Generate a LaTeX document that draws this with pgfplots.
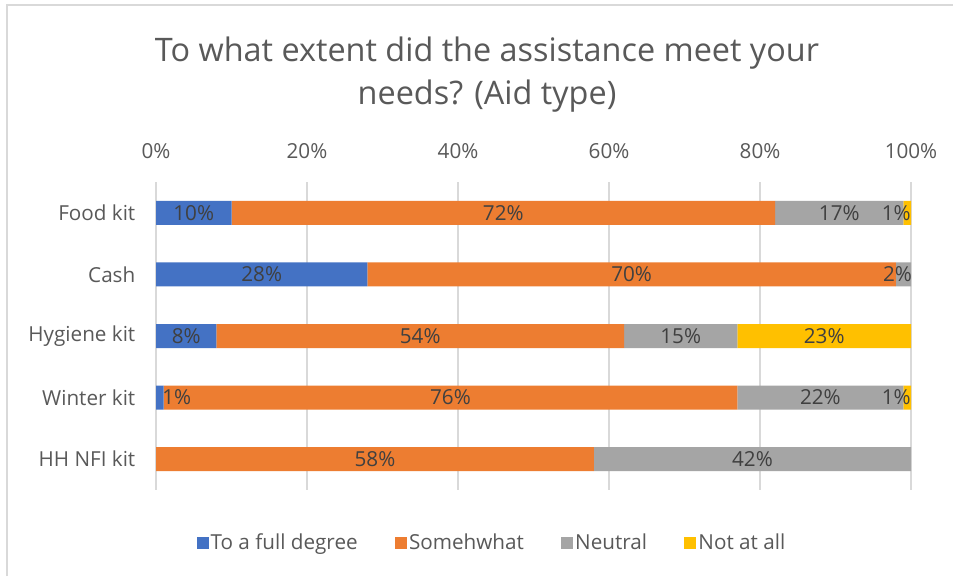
\documentclass[border=0pt]{standalone}
\usepackage{fontspec}
\setmainfont{Open Sans}
\usepackage{pgfplots}
\pgfplotsset{compat=1.18}
\usepackage{pgfplotstable}
\definecolor{cblue}{HTML}{4472C4}
\definecolor{corange}{HTML}{ED7D31}
\definecolor{cgray}{HTML}{A5A5A5}
\definecolor{cyellow}{HTML}{FFC000}
\definecolor{titlegray}{HTML}{595959}
\definecolor{tickgray}{HTML}{595959}
\definecolor{labelgray}{HTML}{404040}
\definecolor{gridgray}{HTML}{D9D9D9}

% y: 1 Food kit, 2 Cash, 3 Hygiene kit, 4 Winter kit, 5 HH NFI kit
% adj: label offset (px) where the label is kept inside the plot area
\pgfplotstableread{
y v adj
1 10 0
2 28 0
3 8 0
4 1 17
5 0 0
}\tfull
\pgfplotstableread{
y v adj
1 72 0
2 70 0
3 54 0
4 76 0
5 58 0
}\tsome
\pgfplotstableread{
y v adj
1 17 0
2 2 -6
3 15 0
4 22 0
5 42 0
}\tneutral
\pgfplotstableread{
y v adj
1 1 -11
2 0 0
3 23 0
4 1 -11
5 0 0
}\tnot

\begin{document}
\begin{tikzpicture}
\path[use as bounding box] (0,0) rectangle (714.75pt,-432pt);
\fill[white] (0,0) rectangle (714.75pt,-432pt);
\draw[gridgray, line width=1.5pt] (5.25pt,-432pt) -- (5.25pt,-3.75pt) -- (714.75pt,-3.75pt);
\node[anchor=base, font=\fontsize{24.3}{28}\selectfont, text=titlegray, inner sep=0pt] at (365.25pt,-46pt) {To what extent did the assistance meet your};
\node[anchor=base, font=\fontsize{24.3}{28}\selectfont, text=titlegray, inner sep=0pt] at (365.25pt,-78.5pt) {needs? (Aid type)};
\begin{axis}[
  at={(117pt,-367.5pt)}, anchor=south west,
  width=566.25pt, height=231pt, scale only axis,
  xbar stacked, bar width=18pt,
  xmin=0, xmax=100, ymin=0.5, ymax=5.5, y dir=reverse,
  /pgf/number format/assume math mode=true,
  xtick={0,20,40,60,80,100},
  xticklabel={\pgfmathprintnumber{\tick}\%},
  xticklabel pos=upper,
  ytick={1,2,3,4,5},
  yticklabels={Food kit,Cash,Hygiene kit,Winter kit,HH NFI kit},
  axis line style={draw=none}, major tick length=0pt,
  xmajorgrids, grid style={draw=gridgray, line width=1.1pt},
  tick label style={font=\fontsize{15.5}{18}\selectfont, text=tickgray},
  xticklabel style={anchor=base, yshift=18pt},
  yticklabel style={xshift=-12pt},
  point meta=explicit,
  nodes near coords={\pgfmathfloatifflags{\pgfplotspointmeta}{0}{}{\pgfmathprintnumber{\pgfplotspointmeta}\%}},
  visualization depends on={\thisrow{adj} \as \adj},
  every node near coord/.style={anchor=center, font=\fontsize{15.5}{18}\selectfont, text=labelgray, xshift={\adj*0.75pt}},
  legend columns=4,
  legend style={at={(axis description cs:0.445,-0.172)}, anchor=center, draw=none, fill=none,
    font=\fontsize{15.5}{18}\selectfont, text=tickgray,
    nodes={inner xsep=1.5pt},
    /tikz/every even column/.append style={column sep=26.5pt},
    /tikz/every odd column/.append style={column sep=0pt}},
  legend image code/.code={\fill[#1] (0pt,-4.5pt) rectangle (9pt,4.5pt);},
]
\addplot[fill=cblue, draw=none] table[x=v, y=y, meta=v]{\tfull};
\addplot[fill=corange, draw=none] table[x=v, y=y, meta=v]{\tsome};
\addplot[fill=cgray, draw=none] table[x=v, y=y, meta=v]{\tneutral};
\addplot[fill=cyellow, draw=none] table[x=v, y=y, meta=v]{\tnot};
\legend{To a full degree, Somehwhat, Neutral, Not at all}
\end{axis}
\end{tikzpicture}
\end{document}
